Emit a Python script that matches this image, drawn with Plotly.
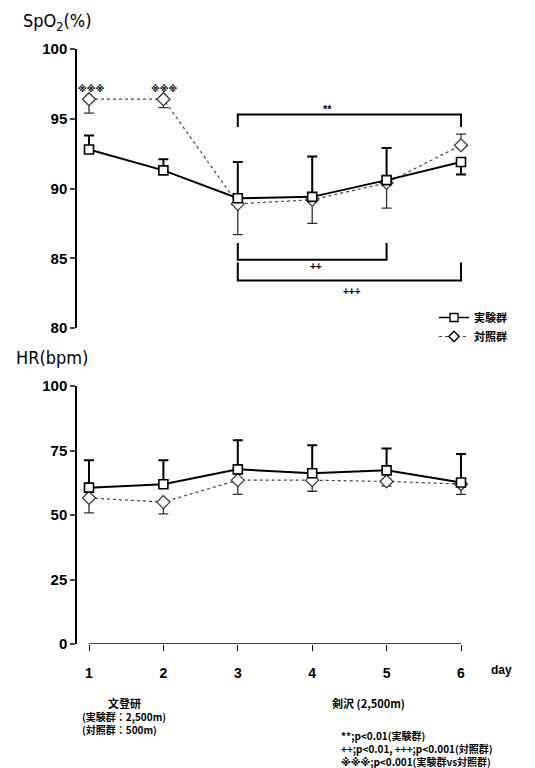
import plotly.graph_objects as go

# ---------------- data ----------------
days = [1, 2, 3, 4, 5, 6]
day_labels = ["1", "2", "3", "4", "5", "6"]

spo2_exp = [92.8, 91.3, 89.3, 89.4, 90.6, 91.9]
spo2_exp_up = [1.0, 0.8, 2.6, 2.9, 2.3, 0.0]
spo2_exp_dn = [0.0, 0.0, 0.0, 0.0, 0.0, 0.9]

spo2_ctl = [96.4, 96.4, 88.9, 89.2, 90.4, 93.1]
spo2_ctl_up = [0.0, 0.0, 0.0, 0.0, 0.0, 0.8]
spo2_ctl_dn = [1.0, 0.6, 2.2, 1.7, 1.8, 0.0]

hr_exp = [60.6, 61.9, 67.7, 66.2, 67.3, 62.6]
hr_exp_up = [10.6, 9.3, 11.3, 10.8, 8.5, 11.0]
hr_exp_dn = [0.0, 0.0, 0.0, 0.0, 0.0, 0.0]

hr_ctl = [56.6, 55.0, 63.5, 63.5, 63.0, 62.0]
hr_ctl_up = [0.0, 0.0, 0.0, 0.0, 0.0, 0.0]
hr_ctl_dn = [5.8, 4.6, 5.5, 4.3, 1.8, 4.0]

series_names = ["実験群", "対照群"]

spo2_ticks = [80, 85, 90, 95, 100]
hr_ticks = [0, 25, 50, 75, 100]

# ---------------- layout helpers ----------------
W, H = 535, 768
def px(x):
    return x / W
def py(y):
    return 1 - y / H

JP = "Noto Sans CJK JP"
NUM = "Liberation Sans, Arial, sans-serif"
NARROW = "Liberation Sans Narrow, DejaVu Sans Condensed, Liberation Sans, sans-serif"
MARK = "DejaVu Sans, Noto Sans CJK JP"

fig = go.Figure()

def add_series(xa, ya, yv, up, dn, name, exp, show):
    fig.add_trace(go.Scatter(
        x=days, y=yv, xaxis=xa, yaxis=ya, name="<b>%s</b>" % name,
        mode="lines+markers", showlegend=show, legendgroup=name,
        line=dict(color="black" if exp else "#444", width=2 if exp else 1.2,
                  dash="solid" if exp else "dot"),
        marker=dict(symbol="square" if exp else "diamond", size=9 if exp else 10,
                    color="white", line=dict(color="black" if exp else "#333", width=1.6 if exp else 1.2)),
        error_y=dict(type="data", symmetric=False, array=up, arrayminus=dn,
                     color="black" if exp else "#333", thickness=2 if exp else 1.3, width=5),
    ))

# control first so experiment draws on top
add_series("x", "y", spo2_ctl, spo2_ctl_up, spo2_ctl_dn, series_names[1], False, False)
add_series("x", "y", spo2_exp, spo2_exp_up, spo2_exp_dn, series_names[0], True, False)
add_series("x2", "y2", hr_ctl, hr_ctl_up, hr_ctl_dn, series_names[1], False, False)
add_series("x2", "y2", hr_exp, hr_exp_up, hr_exp_dn, series_names[0], True, False)

# legend-only traces (ordered 実験群 then 対照群)
for name, exp in zip(series_names, [True, False]):
    fig.add_trace(go.Scatter(
        x=[None], y=[None], xaxis="x", yaxis="y", name="<b>%s</b>" % name,
        mode="lines+markers", showlegend=True,
        line=dict(color="black" if exp else "#444", width=1.5 if exp else 1.2,
                  dash="solid" if exp else "dot"),
        marker=dict(symbol="square" if exp else "diamond", size=8,
                    color="white", line=dict(color="black", width=1.4)),
    ))

xrange = [1 - 12 / 74.4, 1 + (498 - 89) / 74.4]
xdom = [px(77), px(498)]

axis_common = dict(showgrid=False, zeroline=False, automargin=False)

fig.update_layout(
    width=W, height=H, margin=dict(l=0, r=0, t=0, b=0, pad=0, autoexpand=False),
    paper_bgcolor="white", plot_bgcolor="white",
    showlegend=True,
    legend=dict(x=px(434), y=py(303), xanchor="left", yanchor="top",
                font=dict(family=JP, size=11, color="black"),
                bgcolor="rgba(0,0,0,0)", itemwidth=30, tracegroupgap=0),
    xaxis=dict(domain=xdom, range=xrange, anchor="y", showline=False,
               showticklabels=False, ticks="", **axis_common),
    yaxis=dict(domain=[py(328), py(49)], range=[80, 100], anchor="x",
               tickvals=spo2_ticks, ticktext=["<b>%d</b>" % t for t in spo2_ticks],
               ticks="outside", ticklen=5, tickwidth=1.5, showline=True,
               linecolor="black", linewidth=1.5,
               tickfont=dict(family=NUM, size=15, color="black"), **axis_common),
    xaxis2=dict(domain=xdom, range=xrange, anchor="y2", showline=False,
                tickvals=days, ticktext=["<b>%s</b>" % t for t in day_labels],
                ticks="outside", ticklen=6, tickwidth=1.3, tickcolor="black",
                ticklabelstandoff=10,
                tickfont=dict(family=NUM, size=14, color="black"), **axis_common),
    yaxis2=dict(domain=[py(644), py(386)], range=[0, 100], anchor="x2",
                tickvals=hr_ticks, ticktext=["<b>%d</b>" % t for t in hr_ticks],
                ticks="outside", ticklen=5, tickwidth=1.5, showline=True,
                linecolor="black", linewidth=1.5,
                tickfont=dict(family=NUM, size=15, color="black"), **axis_common),
)

# x axis line for HR panel spanning day 1..6
fig.add_shape(type="line", xref="x2", yref="y2", x0=days[0], x1=days[-1], y0=0, y1=0,
              line=dict(color="black", width=1.5))

# significance brackets (SpO2)
def bracket(x0, x1, ybar, yleg, width=2):
    fig.add_shape(type="path", xref="x", yref="y",
                  path="M %s,%s L %s,%s L %s,%s L %s,%s" % (x0, yleg, x0, ybar, x1, ybar, x1, yleg),
                  line=dict(color="black", width=width))

bracket(3, 6, 95.3, 94.4)
bracket(3, 5, 84.9, 86.1)
bracket(3, 6, 83.4, 84.7)

ann = []
def text(x, y, s, size, family=NUM, xref="x", yref="y", xanchor="center", align="center"):
    ann.append(dict(x=x, y=y, xref=xref, yref=yref, text=s, showarrow=False,
                    xanchor=xanchor, yanchor="middle", align=align,
                    font=dict(family=family, size=size, color="black")))

text(1.03, 97.1, "<b>※※※</b>", 9, MARK)
text(2.01, 97.1, "<b>※※※</b>", 9, MARK)
text(4.2, 95.7, "<b>**</b>", 11)
text(4.05, 84.4, "<b>++</b>", 10)
text(4.53, 82.6, "<b>+++</b>", 10)

text(px(21), py(22), "SpO<sub>2</sub>(%)", 18, NARROW, "paper", "paper", "left")
text(px(14), py(358), "HR(bpm)", 18, NARROW, "paper", "paper", "left")
text(px(489), py(670), "<b>day</b>", 12, NUM, "paper", "paper", "left")

text(px(124), py(703), "<b>文登研</b>", 11, JP, "paper", "paper", "center")
text(px(80), py(722.5), "<b>(実験群：2,500m)<br>(対照群：500m)</b>", 10, JP,
     "paper", "paper", "left", "left")
text(px(330), py(703), "<b>剣沢 (2,500m)</b>", 11, JP, "paper", "paper", "left")
text(px(339), py(748), "<b>**;p&lt;0.01(実験群)<br>++;p&lt;0.01, +++;p&lt;0.001(対照群)<br>"
     "<span style=\"font-family:DejaVu Sans\">※※※</span>;p&lt;0.001(実験群vs対照群)</b>",
     10, JP, "paper", "paper", "left", "left")

fig.update_layout(annotations=ann)

fig.write_html("out.html")
